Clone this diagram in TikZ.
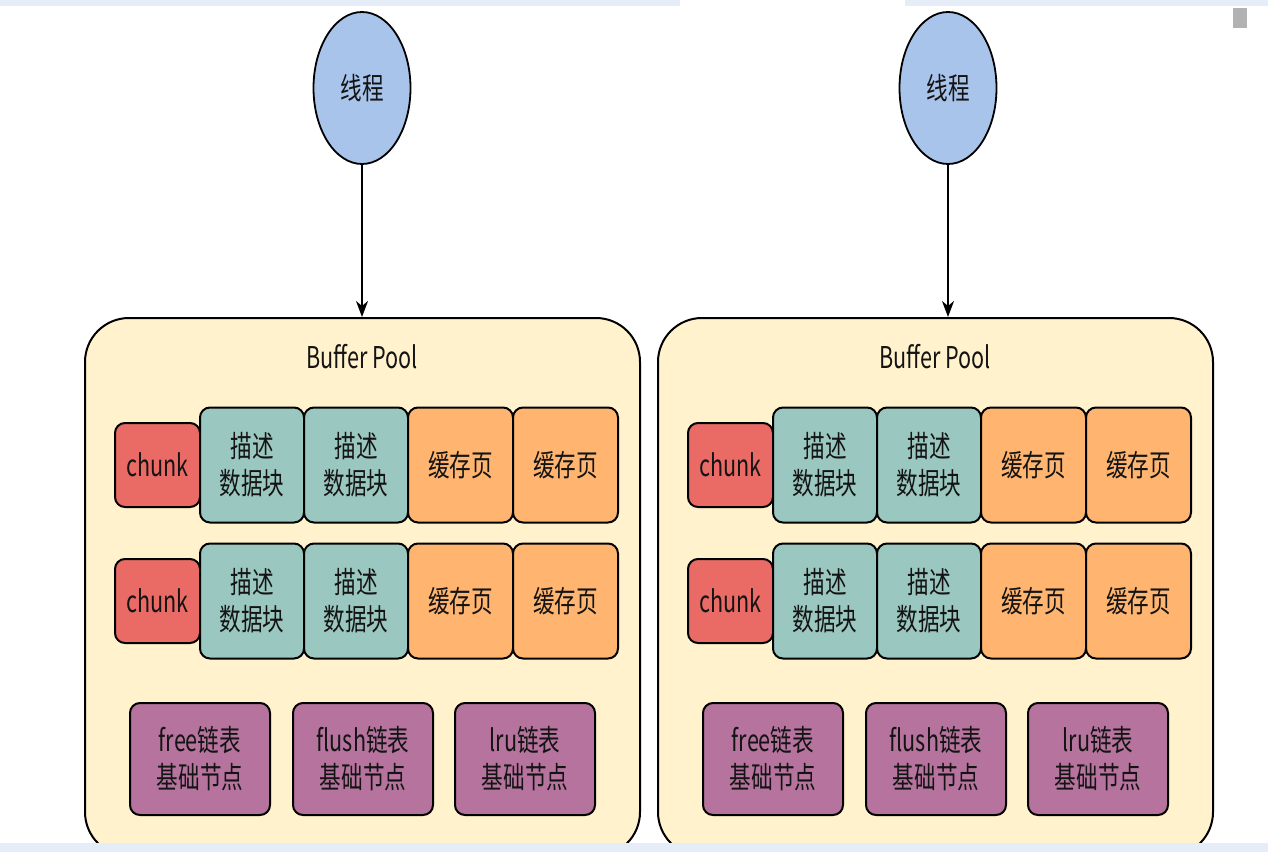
\documentclass[tikz,border=0pt]{standalone}
\usepackage{fontspec}
\setmainfont[FakeStretch=0.72]{Noto Sans CJK SC}
\usetikzlibrary{shapes.geometric, arrows.meta}

\definecolor{threadblue}{HTML}{A9C4EB}
\definecolor{poolyellow}{HTML}{FFF2CC}
\definecolor{chunkred}{HTML}{EA6B66}
\definecolor{descteal}{HTML}{9AC7BF}
\definecolor{pageorange}{HTML}{FFB570}
\definecolor{listpurple}{HTML}{B5739D}
\definecolor{chrome}{HTML}{E4EDF8}
\definecolor{inktext}{HTML}{141414}

\tikzstyle{thread}=[ellipse, draw, fill=threadblue, line width=0.9pt, minimum width=48.5pt, minimum height=76pt, font=\fontsize{15}{18.5}\selectfont, text=inktext]
\tikzstyle{pool}=[draw, fill=poolyellow, rounded corners=22pt, line width=1pt, minimum width=277.5pt, minimum height=269pt]
\tikzstyle{block}=[draw, rounded corners=5pt, line width=1pt, align=center, inner sep=0pt, font=\fontsize{15}{18.5}\selectfont, text=inktext]
\tikzstyle{chunkbox}=[block, fill=chunkred, minimum width=42.5pt, minimum height=42pt]
\tikzstyle{descbox}=[block, fill=descteal, minimum width=52pt, minimum height=57.5pt]
\tikzstyle{pagebox}=[block, fill=pageorange, minimum width=52.5pt, minimum height=57.5pt]
\tikzstyle{listbox}=[block, fill=listpurple, minimum width=70pt, minimum height=56pt]
\tikzstyle{dep}=[-{Stealth[length=8pt, width=6pt, inset=2.5pt]}, line width=0.8pt]

\begin{document}
\begin{tikzpicture}[x=0.5pt, y=-0.5pt]
  \useasboundingbox (0,0) rectangle (1268,851);
  \clip (0,0) rectangle (1268,851);
  \fill[white] (0,0) rectangle (1268,851);
  % browser chrome
  \fill[chrome] (0,0) rectangle (680,6);
  \fill[chrome] (905,0) rectangle (1268,6);
  \fill[gray!60] (1233,8) rectangle (1247,28);
  \foreach \s/\dx/\tx in {a/0/362, b/573/948} {%
    \node[thread] (t\s) at (\tx, 88) {线程};
    \node[pool] (pool\s) at (362.5+\dx, 587) {};
    \node[font=\fontsize{15}{18}\selectfont, text=inktext] (title\s) at (362+\dx, 357) {Buffer Pool};
    \draw[dep] (t\s) -- (t\s |- pool\s.north);
    \foreach \r/\y in {1/465, 2/601} {%
      \node[chunkbox] (c\s\r) at (157.5+\dx, \y) {chunk};
      \node[descbox] (d\s\r) at (252+\dx, \y) {描述\\数据块};
      \node[descbox] (e\s\r) at (356+\dx, \y) {描述\\数据块};
      \node[pagebox] (p\s\r) at (460.5+\dx, \y) {缓存页};
      \node[pagebox] (q\s\r) at (565.5+\dx, \y) {缓存页};
    }
    \node[listbox] (free\s) at (200+\dx, 759) {free链表\\基础节点};
    \node[listbox] (flush\s) at (363+\dx, 759) {flush链表\\基础节点};
    \node[listbox] (lru\s) at (525+\dx, 759) {lru链表\\基础节点};
  }
  \fill[chrome] (0,843) rectangle (1268,855);
\end{tikzpicture}
\end{document}
